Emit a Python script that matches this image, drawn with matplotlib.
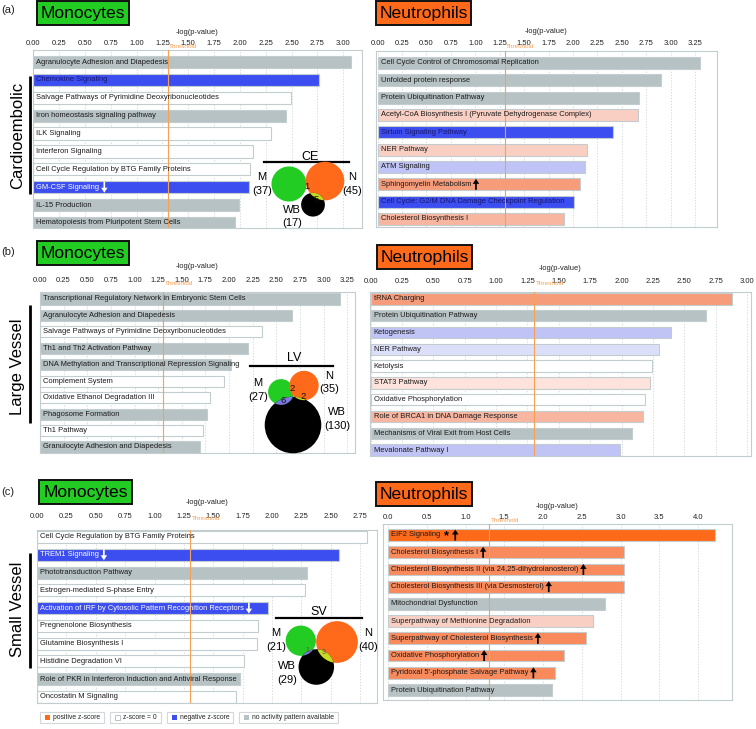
import numpy as np
import matplotlib
matplotlib.use('Agg')
import matplotlib.pyplot as plt
from matplotlib.patches import Circle, Rectangle, FancyArrow
from matplotlib.transforms import offset_copy

plt.rcParams['font.family'] = ['Liberation Sans', 'DejaVu Sans']

# ---------------------------------------------------------------- data
a_mono_names = ['Agranulocyte Adhesion and Diapedesis', 'Chemokine Signaling',
                'Salvage Pathways of Pyrimidine Deoxyribonucleotides',
                'Iron homeostasis signaling pathway', 'ILK Signaling', 'Interferon Signaling',
                'Cell Cycle Regulation by BTG Family Proteins', 'GM-CSF Signaling',
                'IL-15 Production', 'Hematopoiesis from Pluripotent Stem Cells']
a_mono_vals = [3.08, 2.77, 2.49, 2.45, 2.30, 2.13, 2.10, 2.09, 1.99, 1.95]
a_mono_z = ['na', 'n3', 'z0', 'na', 'z0', 'z0', 'z0', 'n3', 'na', 'na']
a_mono_arrow = ['', '', '', '', '', '', '', 'down', '', '']
a_mono_ticks = [0.0, 0.25, 0.5, 0.75, 1.0, 1.25, 1.5, 1.75, 2.0, 2.25, 2.5, 2.75, 3.0]

a_neut_names = ['Cell Cycle Control of Chromosomal Replication', 'Unfolded protein response',
                'Protein Ubiquitination Pathway',
                'Acetyl-CoA Biosynthesis I (Pyruvate Dehydrogenase Complex)',
                'Sirtuin Signaling Pathway', 'NER Pathway', 'ATM Signaling',
                'Sphingomyelin Metabolism', 'Cell Cycle: G2/M DNA Damage Checkpoint Regulation',
                'Cholesterol Biosynthesis I']
a_neut_vals = [3.30, 2.90, 2.68, 2.67, 2.41, 2.14, 2.12, 2.07, 2.01, 1.91]
a_neut_z = ['na', 'na', 'na', 'p2', 'n3', 'p2', 'n2', 'p4', 'n3', 'p3']
a_neut_arrow = ['', '', '', '', '', '', '', 'up', '', '']
a_neut_ticks = [0.0, 0.25, 0.5, 0.75, 1.0, 1.25, 1.5, 1.75, 2.0, 2.25, 2.5, 2.75, 3.0, 3.25]

b_mono_names = ['Transcriptional Regulatory Network in Embryonic Stem Cells',
                'Agranulocyte Adhesion and Diapedesis',
                'Salvage Pathways of Pyrimidine Deoxyribonucleotides',
                'Th1 and Th2 Activation Pathway',
                'DNA Methylation and Transcriptional Repression Signaling',
                'Complement System', 'Oxidative Ethanol Degradation III', 'Phagosome Formation',
                'Th1 Pathway', 'Granulocyte Adhesion and Diapedesis']
b_mono_vals = [3.17, 2.67, 2.35, 2.20, 2.02, 1.95, 1.80, 1.77, 1.72, 1.69]
b_mono_z = ['na', 'na', 'z0', 'na', 'na', 'z0', 'z0', 'na', 'z0', 'na']
b_mono_arrow = [''] * 10
b_mono_ticks = [0.0, 0.25, 0.5, 0.75, 1.0, 1.25, 1.5, 1.75, 2.0, 2.25, 2.5, 2.75, 3.0, 3.25]

b_neut_names = ['tRNA Charging', 'Protein Ubiquitination Pathway', 'Ketogenesis', 'NER Pathway',
                'Ketolysis', 'STAT3 Pathway', 'Oxidative Phosphorylation',
                'Role of BRCA1 in DNA Damage Response',
                'Mechanisms of Viral Exit from Host Cells', 'Mevalonate Pathway I']
b_neut_vals = [2.88, 2.67, 2.39, 2.30, 2.24, 2.23, 2.19, 2.17, 2.08, 1.99]
b_neut_z = ['p4', 'na', 'n2', 'n1', 'z0', 'p1', 'z0', 'p3', 'na', 'n2']
b_neut_arrow = [''] * 10
b_neut_ticks = [0.0, 0.25, 0.5, 0.75, 1.0, 1.25, 1.5, 1.75, 2.0, 2.25, 2.5, 2.75, 3.0]

c_mono_names = ['Cell Cycle Regulation by BTG Family Proteins', 'TREM1 Signaling',
                'Phototransduction Pathway', 'Estrogen-mediated S-phase Entry',
                'Activation of IRF by Cytosolic Pattern Recognition Receptors',
                'Pregnenolone Biosynthesis', 'Glutamine Biosynthesis I',
                'Histidine Degradation VI',
                'Role of PKR in Interferon Induction and Antiviral Response',
                'Oncostatin M Signaling']
c_mono_vals = [2.81, 2.57, 2.30, 2.28, 1.97, 1.88, 1.87, 1.76, 1.73, 1.69]
c_mono_z = ['z0', 'n3', 'na', 'z0', 'n3', 'z0', 'z0', 'z0', 'na', 'z0']
c_mono_arrow = ['', 'down', '', '', 'down', '', '', '', '', '']
c_mono_ticks = [0.0, 0.25, 0.5, 0.75, 1.0, 1.25, 1.5, 1.75, 2.0, 2.25, 2.5, 2.75]

c_neut_names = ['EIF2 Signaling', 'Cholesterol Biosynthesis I',
                'Cholesterol Biosynthesis II (via 24,25-dihydrolanosterol)',
                'Cholesterol Biosynthesis III (via Desmosterol)', 'Mitochondrial Dysfunction',
                'Superpathway of Methionine Degradation',
                'Superpathway of Cholesterol Biosynthesis', 'Oxidative Phosphorylation',
                "Pyridoxal 5'-phosphate Salvage Pathway", 'Protein Ubiquitination Pathway']
c_neut_vals = [4.22, 3.05, 3.05, 3.05, 2.80, 2.64, 2.55, 2.27, 2.16, 2.11]
c_neut_z = ['p6', 'p5', 'p5', 'p5', 'na', 'p2', 'p5', 'p5', 'p5', 'na']
c_neut_arrow = ['*up', 'up', 'up', 'up', '', '', 'up', 'up', 'up', '']
c_neut_ticks = [0.0, 0.5, 1.0, 1.5, 2.0, 2.5, 3.0, 3.5, 4.0]

threshold = 1.3

venn_titles = ['CE', 'LV', 'SV']
venn_M = [37, 27, 21]
venn_N = [45, 35, 40]
venn_WB = [17, 130, 29]
venn_MN = ['1', '2', '']
venn_MWB = ['', '6', '1']
venn_NWB = ['5', '2', '3']

row_labels = ['Cardioembolic', 'Large Vessel', 'Small Vessel']
legend_labels = ['positive z-score', 'z-score = 0', 'negative z-score',
                 'no activity pattern available']
legend_codes = ['p6', 'z0', 'n3', 'na']

# ---------------------------------------------------------------- style
ZCOL = {'na': '#b7c2c4', 'z0': '#ffffff', 'n3': '#3d4ef0', 'n2': '#bfc3f6',
        'n1': '#dcdffa', 'p1': '#fde3dc', 'p2': '#facfc3', 'p3': '#f8b6a0',
        'p4': '#f69c7b', 'p5': '#f98a5c', 'p6': '#ff6a1a'}
GREEN = '#22cc22'
ORANGE = '#ff6a1a'
THR_COL = '#f5a055'
EDGE = '#c3cdd0'

W, H = 756, 729
fig = plt.figure(figsize=(W / 100, H / 100), dpi=100)
fig.patch.set_facecolor('white')

ov = fig.add_axes([0, 0, 1, 1], zorder=10)
ov.set_xlim(0, W)
ov.set_ylim(H, 0)
ov.axis('off')
ov.patch.set_alpha(0)

panels = []


def panel(names, vals, zc, arrows, ticks, fmt, L, R, T, B, c0, c1, x0, ppu,
          tick_y, label_y, thr_y):
    ax = fig.add_axes([L / W, 1 - B / H, (R - L) / W, (B - T) / H])
    n = len(names)
    y = np.arange(n)
    ax.barh(y, vals, height=0.68, color=[ZCOL[c] for c in zc], edgecolor=EDGE,
            linewidth=0.8, zorder=2)
    s = (c1 - c0) / (n - 1)
    ax.set_ylim(n - 1 + (B - c1) / s, -(c0 - T) / s)
    ax.set_xlim((L - x0) / ppu, (R - x0) / ppu)
    ax.xaxis.tick_top()
    ax.xaxis.set_label_position('top')
    ax.set_xticks(ticks)
    ax.set_xticklabels([fmt.format(t) for t in ticks], fontsize=5.5, color='#222222')
    ax.tick_params(axis='x', length=0, pad=max(T - tick_y - 4, 0.5) * 0.72)
    ax.set_yticks([])
    ax.set_xlabel('-log(p-value)', fontsize=5.4, color='#222222')
    ax.xaxis.set_label_coords(0.5, 1 + (T - label_y) / (B - T))
    ax.xaxis.label.set_va('center')
    ax.grid(axis='x', color='#ccd4d6', lw=0.6, ls=(0, (1.5, 2.0)), zorder=0)
    ax.set_axisbelow(True)
    for sp in ax.spines.values():
        sp.set_color(EDGE)
        sp.set_linewidth(0.8)
    ax.axvline(threshold, color=THR_COL, lw=0.8, zorder=3)
    ax.annotate('Threshold', xy=(threshold, 1), xycoords=('data', 'axes fraction'),
                xytext=(1.2, (T - thr_y) * 0.72), textcoords='offset points',
                va='center', ha='left', fontsize=4.6, color=THR_COL, zorder=5)
    tr = offset_copy(ax.transData, fig=fig, x=3, y=0, units='dots')
    texts = []
    for i, (nm, z, ar) in enumerate(zip(names, zc, arrows)):
        col = '#1a1a1a'
        if z == 'n3':
            col = 'white' if ar == 'down' else '#16166e'
        t = ax.text(0, i, nm, transform=tr, fontsize=5.45, va='center', ha='left',
                    color=col, zorder=6)
        texts.append((t, ar, c0 + i * s))
    panels.append(texts)
    return ax


panel(a_mono_names, a_mono_vals, a_mono_z, a_mono_arrow, a_mono_ticks, '{:.2f}',
      33, 362, 50, 228, 62, 223, 33.3, 103.3, 43, 33, 46.7)
panel(a_neut_names, a_neut_vals, a_neut_z, a_neut_arrow, a_neut_ticks, '{:.2f}',
      376, 717, 51, 227, 63, 219, 377.6, 97.7, 43, 31.7, 46.7)
panel(b_mono_names, b_mono_vals, b_mono_z, b_mono_arrow, b_mono_ticks, '{:.2f}',
      40, 355, 292, 453, 299, 447, 40, 94.5, 280, 267, 283.3)
panel(b_neut_names, b_neut_vals, b_neut_z, b_neut_arrow, b_neut_ticks, '{:.2f}',
      370, 751, 292, 456, 299, 450, 370.6, 125.5, 281, 268, 283.3)
panel(c_mono_names, c_mono_vals, c_mono_z, c_mono_arrow, c_mono_ticks, '{:.2f}',
      37, 377, 530, 703, 537, 697, 37, 117.5, 516, 503, 519)
panel(c_neut_names, c_neut_vals, c_neut_z, c_neut_arrow, c_neut_ticks, '{:.1f}',
      383, 732, 524, 700, 535, 690, 388, 77.5, 517, 506, 520)

# ---- arrows after label text (measured)
fig.canvas.draw()
rend = fig.canvas.get_renderer()


def draw_arrow(x, yc, up, color):
    if up:
        ov.add_patch(FancyArrow(x, yc + 5.5, 0, -11, width=1.7, head_width=6.5,
                                head_length=5, length_includes_head=True,
                                color=color, lw=0, zorder=12))
    else:
        ov.add_patch(FancyArrow(x, yc - 5.5, 0, 11, width=1.7, head_width=6.5,
                                head_length=5, length_includes_head=True,
                                color=color, lw=0, zorder=12))


for texts in panels:
    for t, ar, yc in texts:
        if not ar:
            continue
        bb = t.get_window_extent(rend)
        xr = bb.x1
        if ar.startswith('*'):
            ov.text(xr + 6, yc + 1.5, '*', fontsize=9, fontweight='bold', ha='center',
                    va='center', color='black', zorder=12)
            xr += 10
        if ar.endswith('up'):
            draw_arrow(xr + 5, yc, True, 'black')
        else:
            draw_arrow(xr + 5, yc, False, 'white')

# ---- panel letters, title boxes, row labels
for lab, yy in zip(['(a)', '(b)', '(c)'], [10, 252, 492]):
    ov.text(8, yy, lab, fontsize=8, ha='center', va='center', color='#222222')

title_boxes = [('Monocytes', GREEN, 37.3, 129.3, 1, 25),
               ('Neutrophils', ORANGE, 376, 470.7, 1, 25),
               ('Monocytes', GREEN, 37, 129, 241, 265),
               ('Neutrophils', ORANGE, 376.7, 472, 245, 269),
               ('Monocytes', GREEN, 39.3, 131.7, 480, 504),
               ('Neutrophils', ORANGE, 376, 471.7, 482, 506)]
for txt, col, x0, x1, y0, y1 in title_boxes:
    ov.add_patch(Rectangle((x0, y0), x1 - x0, y1 - y0, facecolor=col, edgecolor='#111111',
                           lw=1.4, zorder=11))
    ov.text((x0 + x1) / 2, (y0 + y1) / 2 + 0.5, txt, fontsize=12.6, ha='center',
            va='center', color='black', zorder=12)

for lab, yc, ya in zip(row_labels, [135, 367, 609], [(76, 194), (305, 423), (553, 668)]):
    ov.text(18, yc, lab, rotation=90, fontsize=12, ha='center', va='center', color='black')
    ov.plot([30, 30], list(ya), color='black', lw=2.0, solid_capstyle='butt')

# ---- Venn diagrams
venn_geom = [
    dict(t=(310, 157), lx=(264, 349), ly=162, k=2.88, m=(289, 184), nn=(325, 181), wb=(313, 204.7),
         ml=(262, 177, 191), nl=(352, 177, 191), wl=(292, 210, 223),
         mn=(306.5, 186), mw=None, nw=(316, 199)),
    dict(t=(294, 358), lx=(250, 333), ly=366, k=2.48, m=(281, 392), nn=(304, 385.5), wb=(293, 425),
         ml=(258, 383, 397), nl=(329, 376, 389), wl=(337, 412, 426),
         mn=(291.7, 388), mw=(283.3, 400.5), nw=(302.7, 396.5)),
    dict(t=(318.3, 612.3), lx=(276, 362.3), ly=617.7, k=3.3, m=(300.8, 640.7), nn=(337, 642),
         wb=(316.3, 667), ml=(276, 633, 647), nl=(368, 633, 647), wl=(287, 666, 680),
         mn=None, mw=(307, 650), nw=(324, 652)),
]
for i, g in enumerate(venn_geom):
    k = g['k']
    rM, rN, rW = k * np.sqrt(venn_M[i]), k * np.sqrt(venn_N[i]), k * np.sqrt(venn_WB[i])
    ov.text(g['t'][0], g['t'][1], venn_titles[i], fontsize=9, ha='center', va='center')
    ov.plot(list(g['lx']), [g['ly'], g['ly']], color='black', lw=1.6)
    cM = Circle(g['m'], rM, facecolor=GREEN, edgecolor='none', zorder=11)
    cN = Circle(g['nn'], rN, facecolor=ORANGE, edgecolor='none', zorder=11)
    cW = Circle(g['wb'], rW, facecolor='black', edgecolor='none', zorder=11)
    for c in (cM, cN, cW):
        ov.add_patch(c)
    iM = Circle(g['m'], rM, facecolor='#7a7ae0', edgecolor='none', zorder=11.5)
    iN = Circle(g['nn'], rN, facecolor='#c6dc24', edgecolor='none', zorder=11.5)
    ov.add_patch(iM)
    ov.add_patch(iN)
    iM.set_clip_path(cW)
    iN.set_clip_path(cW)
    for key, txt in (('mn', venn_MN[i]), ('mw', venn_MWB[i]), ('nw', venn_NWB[i])):
        if g[key] is not None and txt:
            ov.text(g[key][0], g[key][1], txt, fontsize=6.8 if i < 2 else 5,
                    ha='center', va='center', color='#111111' if i < 2 else '#555555',
                    zorder=13)
    for (lx, ly1, ly2), nm, cnt in ((g['ml'], 'M', venn_M[i]), (g['nl'], 'N', venn_N[i]),
                                    (g['wl'], 'WB', venn_WB[i])):
        ov.text(lx, ly1, nm, fontsize=8, ha='center', va='center', zorder=13)
        ov.text(lx, ly2, '(%d)' % cnt, fontsize=8, ha='center', va='center', zorder=13)

# ---- legend
xc = 40
ly0, ly1 = 712, 723
for lab, code in zip(legend_labels, legend_codes):
    t = ov.text(xc + 13, (ly0 + ly1) / 2, lab, fontsize=4.9, ha='left', va='center',
                color='#222222', zorder=13)
    bb = t.get_window_extent(rend)
    w = bb.width
    ov.add_patch(Rectangle((xc, ly0), w + 17, ly1 - ly0, facecolor='white',
                           edgecolor='#d2d8da', lw=0.8, zorder=11))
    ov.add_patch(Rectangle((xc + 5, (ly0 + ly1) / 2 - 2.5), 5, 5, facecolor=ZCOL[code],
                           edgecolor='#b0b8ba' if code == 'z0' else 'none', lw=0.6, zorder=12))
    xc += w + 17 + 6

fig.savefig('out.png', dpi=100)
